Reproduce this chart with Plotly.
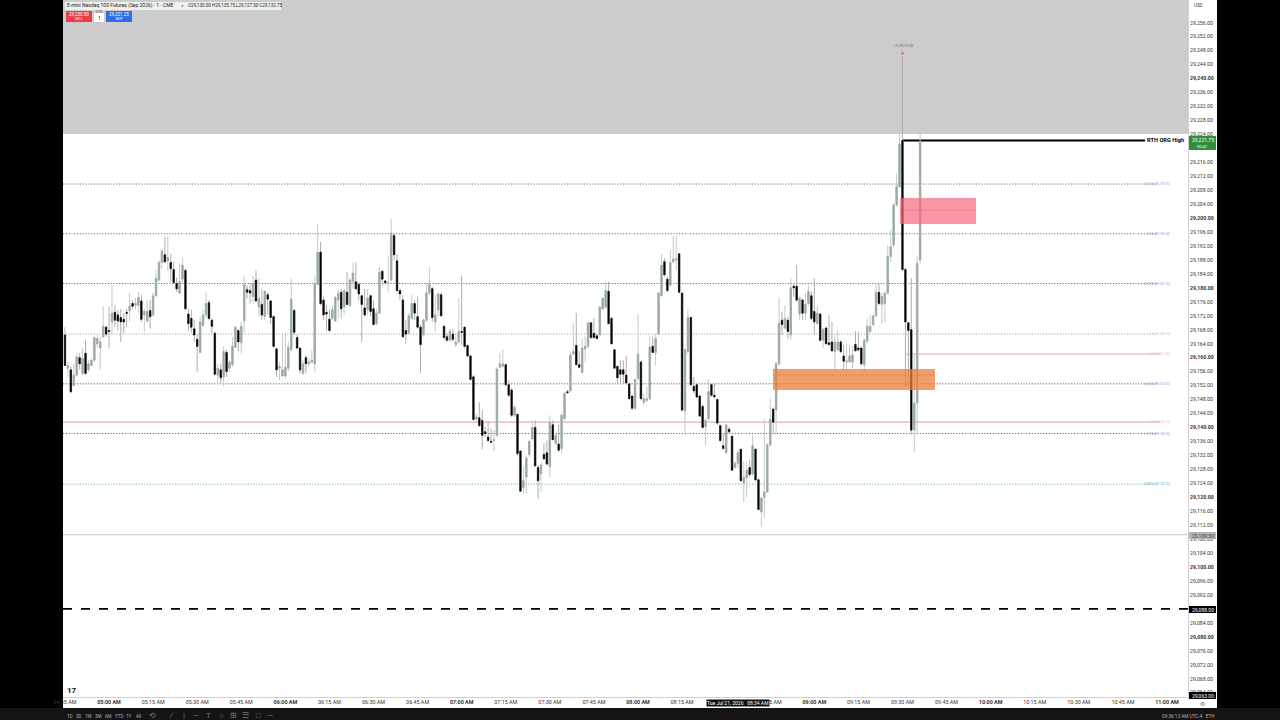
import numpy as np
import pandas as pd
import plotly.graph_objects as go

# E-mini Nasdaq 100, 1 minute bars, Tue Jul 21 2026, 04:45 to 09:36
# prices are written as points above 29,000
base_price = 29000

opens = [
    166.5, 157, 156.5, 152, 155, 160, 155.5, 161.25, 156.5, 157.75, 159.25, 164, 162.75, 166, 168.75, 167.75,
    170.25, 173, 172.25, 171.5, 171, 173, 173.5, 175.5, 175, 175, 176.25, 172.25, 170.5, 173.5, 172.25, 177.75,
    182.25, 187.25, 189.5, 187.75, 187.25, 185.25, 181.25, 178.5, 182.5, 185, 172.5, 171.25, 168.25, 165.25,
    161.5, 169.25, 172.25, 175.75, 170.75, 167, 155, 156.5, 154.5, 161.5, 157, 158, 163, 167.75, 164.25, 170.5,
    179.5, 179.25, 177.5, 182.25, 174.5, 175.25, 171.75, 178, 176.25, 171.75, 162.5, 157, 154.75, 154.75, 157,
    162.25, 173.5, 165.75, 162.75, 155.5, 160, 158.25, 158.75, 158.25, 181, 190.25, 176.5, 173, 171, 171.25,
    170.5, 176.5, 178.75, 174.5, 178.75, 175, 181.75, 181.75, 181, 177.75, 174.25, 173.75, 177.75, 174, 169.75,
    172.75, 184.75, 182, 181.25, 182.25, 195, 187.75, 179.25, 176.5, 167.75, 167, 171.25, 175.5, 171.75,
    168.75, 166.5, 170.75, 178.5, 179.75, 170.25, 173.75, 178, 169, 166, 165, 166.75, 163.75, 164.5, 167.5,
    168.75, 163.5, 160.5, 154.5, 142.5, 142.75, 142, 138.75, 137.25, 136, 136.25, 137.75, 157.25, 157.5, 158,
    152.25, 150.75, 143.5, 143.75, 133.25, 122.75, 125.75, 132.25, 136.75, 140, 128.5, 126.75, 132.25, 132.75,
    128.75, 140.75, 135.5, 135.25, 134, 142.5, 150.25, 150.5, 161, 163.5, 158, 155.75, 162.5, 163.25, 170, 167,
    166.25, 166.5, 174, 174.5, 179, 171.25, 162.25, 157.5, 156.5, 156.5, 155, 152.5, 149, 145.5, 154, 158.75,
    147.25, 147.75, 148.25, 163.25, 161.5, 166.75, 177.75, 187.5, 182.5, 180.75, 187.5, 188, 189.75, 178.5,
    144.75, 161.75, 171.5, 151.75, 152.25, 149, 146, 140.25, 142.5, 152.25, 149.25, 148, 140.5, 134.75, 132.75,
    139.5, 137.5, 128.5, 129.75, 133.75, 124, 125.5, 128.5, 126.75, 133.75, 125, 115.75, 120, 121.5, 135,
    145.25, 145, 158.25,
    170.75, 168.5, 170.75, 166.5, 180.5, 180.5, 172.5, 176.5, 172.75, 175.5, 177.75, 173.25, 169.75, 172.5,
    165, 168.5, 164.25, 164.5, 161.75, 162.25, 164.5, 160.5, 158.75, 158.75, 158.75, 163.75, 162.75, 162.75,
    158, 164.75, 167.5, 169.5, 172, 178.75, 175.25, 175.5, 178.5, 189, 192.25, 203.75, 209, 222.25, 185.25,
    170, 168, 139.25, 147, 188,
]
highs = [
    168.75, 158.75, 157.5, 158.25, 161.25, 161.25, 162.75, 165, 159.25, 159.75, 166, 166.5, 166, 174.75, 169.25,
    174.5, 180.75, 175, 173.75, 174, 172.75, 174, 178.5, 176.5, 177, 178.75, 178, 174, 176.5, 176.5, 178.75, 185,
    188, 191.25, 194.75, 194.75, 189.75, 187.5, 183, 187, 188.5, 185.5, 174, 173.75, 170.75, 166.5, 171.75,
    173.75, 178.75, 176.5, 171.25, 167.5, 158.25, 158.25, 163.25, 162.25, 159.25, 166, 169, 168.25, 170.25,
    183.25, 180.75, 181.25, 183.5, 185, 182.75, 179.75, 179.25, 178.75, 176.5, 172.25, 163, 158.75, 167, 167,
    164.5, 182.75, 174, 166.5, 163, 159.25, 160.5, 159.75, 162.25, 183.25, 198.25, 193.25, 177.5, 175, 173.75,
    175, 177.75, 179.75, 179.75, 179.75, 184.5, 182.75, 187.25, 187.25, 181.75, 178, 179.75, 179.75, 178, 176.5,
    174, 186, 185.25, 182.25, 189.25, 199.75, 195.5, 189.75, 179.75, 178, 170.75, 172.75, 178, 176.5, 177.5,
    169.25, 171.25, 181.25, 186, 180.25, 178, 178.75, 178.75, 169.25, 167, 168.25, 168.25, 167, 177, 183.5, 169,
    163.75, 160.75, 155, 144, 147.25, 145, 140.25, 141.75, 139.75, 139.25, 157.25, 161.25, 162.5, 158.25, 153.5,
    151.25, 146.5, 144, 133.5, 128.75, 132, 136.25, 142, 142, 129.25, 129.75, 135.5, 136.25, 143.5, 142, 138.25,
    140.75, 144, 150.25, 150.75, 161.75, 169.75, 172.75, 161.75, 165.5, 166, 170.25, 170.25, 171.25, 167, 174.75,
    177.25, 181.75, 181.75, 171.75, 162.25, 157.75, 159.25, 159.25, 160.5, 152.75, 149.25, 154, 172.5, 159.25,
    149.75, 151.75, 166, 166, 166.75, 178.75, 189.75, 188.5, 183.25, 190.75, 194.75, 194.75, 189.75, 178.75,
    162.75, 173.75, 171.75, 154.5, 152.5, 149.25, 146.5, 142.5, 153.75, 152.5, 152.5, 148.25, 140.75, 138.25,
    141, 140.25, 137.75, 130.25, 133.5, 134, 130.25, 130.25, 130.75, 137.75, 134, 125.25, 120.25, 142.5, 135.5,
    148.25, 145.75, 158.75, 177.25,
    173.25, 175, 171.75, 182.75, 181, 186.5, 177.5, 177, 178.5, 180.75, 179, 182.75, 174.75, 172.75, 168.5, 169,
    172.25, 170.25, 166.5, 168, 165, 163.75, 164, 163.75, 163.25, 167.5, 167.5, 163.25, 165.5, 171.25, 172.25,
    172.25, 181, 181.25, 178.5, 179, 192.25, 196.5, 204.25, 212.75, 224.75, 246.25, 185.75, 170.25, 182.75,
    160.75, 189, 225.75,
]
lows = [
    157.5, 154.5, 149.75, 151.75, 154.5, 156.5, 155, 155, 156, 157.5, 158.75, 162.75, 156.5, 165.5, 166, 162.75,
    166.5, 168.75, 167.75, 164.5, 167, 168.75, 170.25, 174, 173.75, 172.75, 170.25, 167.5, 169.75, 168.25, 171.75,
    177.5, 181.75, 185.5, 187, 185, 181.75, 181.25, 178.75, 178.25, 181.25, 173.75, 167.5, 167, 164.5, 156, 161.25,
    168.75, 171.25, 170.75, 167, 155, 152.5, 152.5, 151.75, 154.5, 156, 157.5, 162.75, 161.75, 161.25, 167, 177,
    175.5, 175.5, 176, 171.75, 170.75, 170.75, 172.25, 169.75, 162.75, 154.5, 153.5, 154.5, 154, 156, 161.75,
    166.5, 162.25, 155.5, 155, 155.5, 157.5, 158.25, 156, 180.75, 175, 170.75, 167.75, 167.75, 170.75, 170.25,
    171.25, 171.25, 172.25, 175, 174.5, 179.75, 179.25, 176.5, 164.5, 171.75, 172.25, 171.75, 169.25, 169.25,
    172.5, 180.75, 181.25, 178.75, 181.75, 188, 178.75, 176.5, 165.5, 164, 166.5, 170.75, 170.75, 168.25,
    155.5, 166, 170.25, 178, 170.25, 167.5, 171.75, 171.75, 165, 164.5, 164.5, 164.5, 163, 164, 163.5, 162.75,
    160.25, 153.5, 142, 141.5, 140.25, 133.75, 137.25, 135.75, 135.5, 133.25, 137.25, 157, 157.25, 151.75, 148.75,
    143, 143, 132, 121.5, 121, 121, 131.5, 136.25, 128.75, 119.5, 121.5, 130.75, 129.25, 125.75, 136.5, 135, 133,
    132.5, 142, 149.5, 150, 160.75, 157.75, 157, 155.5, 158.75, 162.75, 165.5, 165.5, 165, 166, 173.75, 174, 169.75,
    163.75, 156.75, 152.5, 152.5, 152.5, 152.5, 148, 145, 145, 153.5, 147.75, 146.25, 147.25, 147.75, 161.25, 157.75,
    166.5, 177.5, 183.25, 178.75, 180.25, 187.25, 185, 178.5, 144.5, 138.25, 161.25, 151.75, 149.75, 148.25, 143,
    139.75, 134.75, 142, 148.75, 148.25, 140.75, 135.75, 133.5, 132.25, 138.25, 127.5, 128.25, 128.25, 124.5,
    118.5, 120, 125.75, 126.25, 124.5, 116.25, 111.5, 114, 121.25, 134.5, 138.25, 138.25, 157.75,
    166.5, 168, 165.5, 165, 177.5, 176, 170.75, 170.75, 170.75, 175, 170.75, 166.5, 169.5, 164.5, 162.75, 163.75,
    163.25, 161.5, 156.5, 161.75, 161.25, 156.5, 156.25, 158.5, 157, 161.75, 161.75, 157.75, 155.75, 164, 167, 169,
    171.75, 175, 169.75, 170.25, 178, 187.5, 191.75, 203.25, 208.5, 184.75, 151.75, 151.75, 138, 133, 138, 187,
]
closes = [
    157.75, 157.75, 150.25, 155, 160.25, 158.25, 159.75, 155.5, 158.25, 159.25, 165.75, 165.5, 164.5, 169, 166.75,
    167.5, 172.75, 170.75, 170.5, 170.25, 170.25, 172.75, 174.75, 174.75, 175.5, 177.25, 171, 173.25, 173.25, 171.75,
    177.75, 182.75, 187.25, 190.5, 187.5, 188.75, 185.5, 181.5, 179.75, 181.75, 186.5, 174, 169.75, 168.75, 166.5,
    163.25, 170.25, 172.25, 175.5, 171.25, 169, 155.25, 157, 154.25, 161.75, 156, 158.75, 163.25, 168.75, 164.5, 169,
    181, 178.75, 178.5, 181.25, 176.25, 177, 172.25, 179, 176.75, 171.5, 163.25, 156.5, 157.5, 156.5, 157.25, 163,
    176.75, 167.25, 162.75, 156.5, 158.25, 158.25, 158.75, 159.25, 181, 190.25, 175.5, 172.25, 172.5, 167.75, 173.75,
    177.25, 178.5, 174, 179.25, 175.25, 182.25, 184.25, 179.75, 178.25, 175.25, 172.25, 177, 173.25, 169.5, 172.75,
    184.5, 182.5, 181.5, 181.5, 195.75, 189.5, 179.25, 178.25, 166, 166.75, 172, 175.5, 172.75, 168.75,
    163.75, 170.75, 178.5, 181, 171.5, 172.25, 178.25, 172, 165.75, 165, 167.5, 165.25, 164.5, 167.5, 167.25, 163.25,
    160.5, 153.75, 142.25, 143, 140.5, 137.75, 138.25, 136.25, 135.75, 136.5, 156.75, 158.25, 158.25, 152.25, 149.25,
    143.5, 145.75, 132.5, 121.75, 124.75, 131.25, 136, 140, 129, 124.75, 129.25, 131, 129.5, 141.5, 136.5, 137.75,
    133.5, 143.5, 149.75, 150, 160.75, 161.75, 158, 157.25, 162.75, 163.25, 170, 165.75, 165.75, 165.5, 174.5, 177,
    179.25, 169.75, 164, 157, 154.25, 155.25, 155.25, 152.75, 148.25, 145.5, 153.75, 161, 148.25, 148.25, 148.25,
    163, 161.5, 165.5, 178.5, 186.5, 183.75, 179.25, 187.25, 188.25, 188.25, 178.75, 145, 162.25, 171.5, 152.25, 150.5,
    148.75, 143.25, 140, 142, 150.25, 149.25, 148.75, 141.25, 136.25, 134, 140.75, 138.75, 127.75, 129.75, 132.75,
    124.75, 125.75, 127.75, 126.5, 134.75, 125, 116.5, 119.75, 121.5, 135, 142.25, 141.5, 158.25, 169.75,
    169.5, 171.25, 167.5, 180, 180, 176.5, 177, 172.75, 175.25, 179, 171.25, 170.25, 172.75, 165, 168, 164, 163.75,
    162, 164.5, 164.5, 161.75, 159, 159, 160.5, 160.75, 162, 162.25, 158.25, 165, 169, 169, 172, 178.75, 175.5, 177.5,
    178.5, 189, 191.75, 203.75, 209, 221.25, 185.25, 170.25, 167.75, 139.25, 147, 187, 221.75,
]

# fib levels of the session range, dotted
fib_prices = [29209.75, 29195.5, 29181.25, 29166.75, 29152.5, 29138.25, 29123.75]
fib_labels = ["0.125 (29,209.75)", "0.25 (29,195.50)", "0.375 (29,181.25)", "0.5 (29,166.75)",
              "0.625 (29,152.50)", "0.75 (29,138.25)", "0.875 (29,123.75)"]
fib_colors = ["#606060", "#606060", "#606060", "#a0a090", "#505050", "#505050", "#5fb0a8"]
fib_text_colors = ["#9a98c0", "#9a98c0", "#9a98c0", "#c8c4b0", "#9a98c0", "#9a98c0", "#6ab5ae"]
DOTS = "1.2px,1.6px"

price_ticks = list(range(29064, 29260, 4))
time_ticks = pd.date_range("2026-07-21 04:45", "2026-07-21 11:00", freq="15min")

times = pd.date_range("2026-07-21 04:45", periods=len(opens), freq="1min")
o = np.array(opens) + base_price
h = np.array(highs) + base_price
l = np.array(lows) + base_price
c = np.array(closes) + base_price

PLOT_L, PLOT_R, PLOT_B = 63, 1188, 697


def px(x):  # pixel to paper
    return (x - PLOT_L) / (PLOT_R - PLOT_L)


def py(y):
    return (PLOT_B - y) / PLOT_B


def box(x0, y0, x1, y1, color, layer="above", opacity=1):
    return dict(type="rect", xref="paper", yref="paper", x0=px(x0), x1=px(x1), y0=py(y0), y1=py(y1),
                fillcolor=color, line_width=0, layer=layer, opacity=opacity)


def hline(price, x0, x1, color, width=1, dash="solid"):
    return dict(type="line", xref="paper", yref="y", x0=px(x0), x1=px(x1), y0=price, y1=price,
                line=dict(color=color, width=width, dash=dash), layer="below")


def label(x, y, text, size=5.5, color="#222222", anchor="center", bg=None):
    return dict(xref="paper", yref="paper", x=px(x), y=py(y), text=text, showarrow=False, xanchor=anchor,
                yanchor="middle", font=dict(size=size, color=color), bgcolor=bg, borderpad=0)


fig = go.Figure()

# wicks first, then the bodies on top so wicks can stay lighter than the body
fig.add_trace(go.Candlestick(
    x=times, open=o, high=h, low=l, close=c, hoverinfo="skip", showlegend=False,
    increasing=dict(line=dict(color="#c4cbc6", width=1), fillcolor="#c4cbc6"),
    decreasing=dict(line=dict(color="#adadad", width=1), fillcolor="#adadad"),
))
fig.add_trace(go.Candlestick(
    x=times, open=o, high=np.maximum(o, c), low=np.minimum(o, c), close=c, hoverinfo="skip", showlegend=False,
    increasing=dict(line=dict(color="#98aa9e", width=0.5), fillcolor="#98aa9e"),
    decreasing=dict(line=dict(color="#000000", width=0.5), fillcolor="#000000"),
))
fig.add_trace(go.Scatter(x=[times[285]], y=[29247.25], mode="markers", hoverinfo="skip", showlegend=False,
                         marker=dict(color="#f0708a", size=3)))

shapes = [
    box(PLOT_R, 0, 1217, 708, "white", "below"),
    box(PLOT_L, PLOT_B, 1217, 708, "white", "below"),
    box(PLOT_L, 0, PLOT_R, 134, "#cccccc", "below"),
    # zones
    box(900, 198, 976, 224, "#f7687e", opacity=0.7),
    box(773, 369, 935, 390, "#ec7e3a", opacity=0.75),
    # levels
    hline(29222.25, 902, 1145, "#000000", 2),
    hline(29161, 905, 1160, "#e8bcc0", 1.2),
    hline(29141.5, 63, 1160, "#e3aeb2", 1.2),
    hline(29109.25, 63, 1188, "#c8c8c8", 1),
    hline(29088, 63, 1188, "#000000", 1.6, "dash"),
    hline(29202.25, 900, 976, "#606060", 0.9, DOTS),
    hline(29155, 773, 935, "#606060", 0.9, DOTS),
    # price tags on the axis
    box(1189, 136, 1216, 150, "#2f8f3c"),
    box(1189, 532, 1216, 539, "#b4b4b4"),
    box(1189, 606, 1216, 613, "#000000"),
    box(1189, 692, 1216, 699, "#000000"),
    # bottom toolbar
    box(0, 708, 1280, 720, "#141414"),
    # header
    box(65, 2, 281, 10, "#f0f0f0", "below"),
    box(66, 11, 92, 22, "#e8404a"),
    box(94, 13, 104, 22, "#ffffff"),
    box(106, 11, 132, 22, "#2f6de8"),
]
for price, color in zip(fib_prices, fib_colors):
    shapes.append(hline(price, 63, 1158, color, 0.9, DOTS))

annotations = [
    label(66, 5.5, "E-mini Nasdaq 100 Futures (Sep 2026) · 1 · CME", 5, anchor="left"),
    label(182, 5.5, "●", 4.5, "#3fb58c"),
    label(187, 5.5, "O29,130.00 H29,135.75 L29,127.50 C29,132.75", 4.5, anchor="left"),
    label(79, 14.5, "29,230.50", 4.5, "white"),
    label(79, 19, "SELL", 3.5, "white"),
    label(99, 12, "0.75", 3, "#444444"),
    label(99, 18, "1", 5, "#222222"),
    label(119, 14.5, "29,221.25", 4.5, "white"),
    label(119, 19, "BUY", 3.5, "white"),
    label(1193, 5.5, "USD", 4.5, "#333333", anchor="left"),
    label(1165, 140, "<b>RTH ORG High</b>", 5.7, "#000000", bg="white"),
    label(1202.5, 140.5, "29,221.75", 5, "white"),
    label(1202.5, 146, "00:47", 4, "white"),
    label(1202.5, 535.5, "29,109.50", 5, "#444444"),
    label(1202.5, 609.5, "29,088.00", 5, "white"),
    label(1202.5, 695.5, "29,063.00", 5, "white"),
    label(902.5, 45.5, "↑ 0 29215.50", 3.5, "#666666"),
    label(72, 690, "<b>17</b>", 8, "#111111"),
    label(738, 703, "Tue Jul 21, 2026   08:34 AM", 5, "white", bg="#111111"),
    label(1202.5, 703.5, "⚙", 6, "#777777"),
    label(1188, 716, "09:36:13 AM UTC-4   ETH", 4.7, "#b4b4b4"),
]
for x_pos, tag in zip([70, 79, 88, 98, 108, 119, 129, 138], ["1D", "5D", "1M", "3M", "6M", "YTD", "1Y", "All"]):
    annotations.append(label(x_pos, 716, tag, 4.6, "#b0b0b0"))
for x_pos, tag in zip([152, 171, 184, 196, 208, 221, 233, 245, 258, 270],
                      ["⟲", "∕", "|", "—", "T", "○", "⊞", "☰", "□", "—"]):
    annotations.append(label(x_pos, 715.5, tag, 8, "#777777"))
for price, text, color in zip(fib_prices, fib_labels, fib_text_colors):
    annotations.append(dict(xref="paper", yref="y", x=px(1172), y=price, text=text, showarrow=False,
                            font=dict(size=3.2, color=color)))
for price, text in zip([29161, 29141.5], ["0.5 (29,161.00)", "0.5 (29,141.75)"]):
    annotations.append(dict(xref="paper", yref="y", x=px(1172), y=price, text=text, showarrow=False,
                            font=dict(size=3.2, color="#e8bcc0")))

fig.update_layout(
    width=1280,
    height=720,
    margin=dict(l=PLOT_L, r=1280 - PLOT_R, t=0, b=720 - PLOT_B),
    paper_bgcolor="#000000",
    plot_bgcolor="white",
    font=dict(family="Roboto, sans-serif"),
    showlegend=False,
    shapes=shapes,
    annotations=annotations,
    xaxis=dict(
        type="date",
        range=["2026-07-21 04:44:20", "2026-07-21 11:07:10"],
        rangeslider=dict(visible=False),
        showgrid=False,
        showline=True,
        linecolor="#d0d0d0",
        ticks="",
        tickvals=time_ticks,
        ticktext=[f"<b>{t.strftime('%I:%M %p')}</b>" if t.minute == 0 else t.strftime("%I:%M %p") for t in time_ticks],
        tickfont=dict(size=5.4, color="#333333"),
        tickangle=0,
    ),
    yaxis=dict(
        side="right",
        range=[29062.75, 29262.5],
        showgrid=False,
        showline=True,
        linecolor="#d0d0d0",
        zeroline=False,
        ticks="",
        tickvals=price_ticks,
        ticktext=[f"<b>{p:,.2f}</b>" if p % 20 == 0 else f"{p:,.2f}" for p in price_ticks],
        tickfont=dict(size=5.2, color="#333333"),
    ),
)

# the page body margin would push the 1280x720 figure off the window
fig.write_html("out.html", config={"displayModeBar": False}, post_script="document.body.style.margin = '0';")
